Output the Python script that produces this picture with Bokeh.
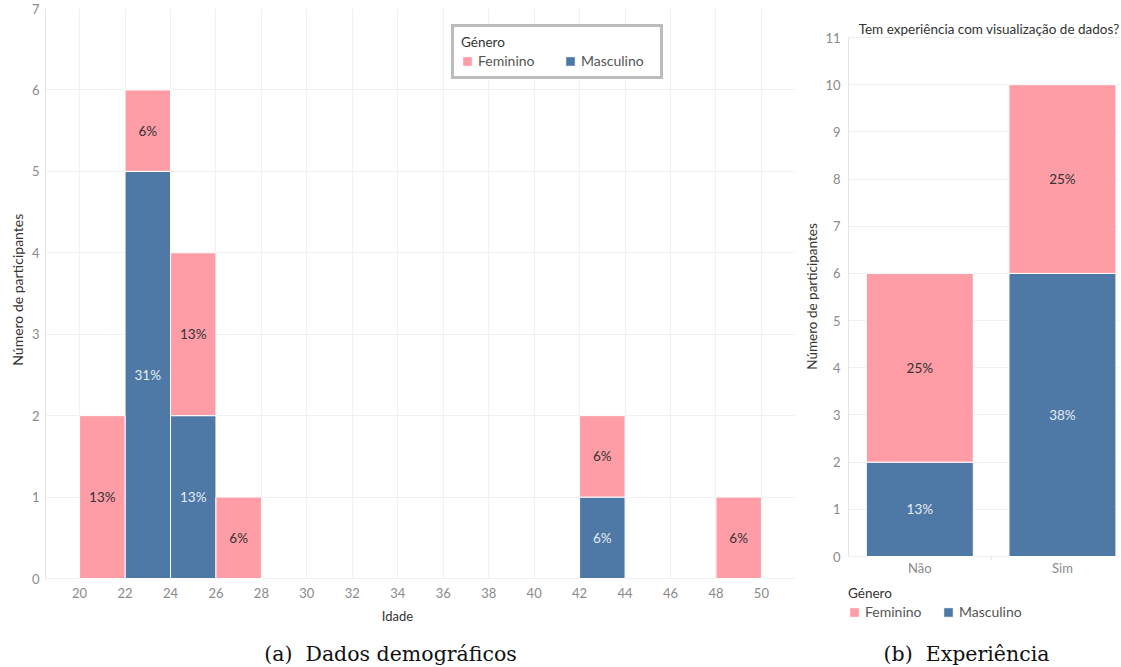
from bokeh.plotting import figure
from bokeh.layouts import row
from bokeh.models import (Range1d, FixedTicker, Legend, LegendItem, Label,
                          ColumnDataSource)
from bokeh.embed import file_html
from bokeh.resources import INLINE
from bokeh.core.properties import value

# ---------------- data ----------------
age_bin_start = [20, 22, 24, 26, 42, 48]
age_masc = [0, 5, 2, 0, 1, 0]
age_fem = [2, 1, 2, 1, 1, 1]
age_ticks = list(range(20, 52, 2))
age_yticks = [0, 1, 2, 3, 4, 5, 6, 7]

exp_cats = ["Não", "Sim"]
exp_masc = [2, 6]
exp_fem = [4, 4]
exp_yticks = list(range(0, 12))

series_names = ["Feminino", "Masculino"]
legend_title = "Género"
x_title_1 = "Idade"
y_title = "Número de participantes"
title_2 = "Tem experiência com visualização de dados?"
caption_1 = "(a)\u00a0\u00a0Dados demográficos"
caption_2 = "(b)\u00a0\u00a0Experiência"

PINK = "#FF9DA7"
BLUE = "#4E79A7"
FONT = "Lato"
SERIF = "DejaVu Serif"
TICK_C = "#8a8a8a"
DARK = "#333333"
GRID = "#f0f0f0"
LIGHT_TXT = "#e6ecf3"
CAP_C = "#111111"
EM = "\u2003"

H = 665            # canvas height
TOP = 8            # frame top (px)
BASE1 = 578        # px of y=0 in the left chart
BASE2 = 556        # px of y=0 in the right chart
TOP2 = 37          # px of y=11 in the right chart


def pct(v, total):
    return "%d%%" % int(v / total * 100 + 0.5)


def style_axis(ax):
    ax.major_tick_line_color = None
    ax.minor_tick_line_color = None
    ax.major_tick_out = 0
    ax.major_tick_in = 0
    ax.minor_tick_out = 0
    ax.minor_tick_in = 0
    ax.axis_line_color = "#e4e4e4"
    ax.major_label_text_font = FONT
    ax.major_label_text_font_size = "13px"
    ax.major_label_text_color = TICK_C
    ax.axis_label_text_font = FONT
    ax.axis_label_text_font_size = "14px"
    ax.axis_label_text_font_style = "normal"
    ax.axis_label_text_color = DARK


def base_style(p):
    p.outline_line_color = None
    p.background_fill_color = "white"
    p.border_fill_color = "white"


def screen_label(p, x, y, text, align="center", font=FONT, size="13px",
                 color=DARK):
    p.add_layout(Label(x=x, y=y, x_units="screen", y_units="screen", text=text,
                       text_align=align, text_baseline="middle",
                       text_font=font, text_font_size=size, text_color=color))


def legend_for(renderers, location, label_width, spacing, padding, border):
    return Legend(items=[LegendItem(label=n, renderers=[r])
                         for n, r in zip(series_names, renderers)],
                  location=location, orientation="horizontal",
                  title=legend_title, title_text_font=FONT,
                  title_text_font_size="13.5px", title_text_color=DARK,
                  title_text_font_style="normal",
                  label_text_font=FONT, label_text_font_size="14px",
                  label_text_color="#555555", label_height=15,
                  label_width=label_width, glyph_width=12, glyph_height=12,
                  label_standoff=5, spacing=spacing, padding=padding, margin=0,
                  title_standoff=2,
                  border_line_color="#7a7a7a" if border else None,
                  border_line_width=3,
                  background_fill_alpha=1 if border else 0)


# ---------------- left chart ----------------
PPU1 = (BASE1 - TOP) / 7.0
p1 = figure(width=800, height=H, output_backend="svg", toolbar_location=None,
            x_range=Range1d(18.5, 51.5),
            y_range=Range1d(-(H - BASE1) / PPU1, 7),
            x_axis_location=None,
            min_border_left=45, min_border_right=5, min_border_top=TOP,
            min_border_bottom=0)
base_style(p1)
style_axis(p1.yaxis[0])
p1.yaxis.ticker = FixedTicker(ticks=age_yticks)
p1.yaxis.bounds = (0, 7)
p1.yaxis.axis_label = EM * 9 + y_title
p1.yaxis.major_label_standoff = 6
p1.yaxis.axis_label_standoff = 3
p1.ygrid.grid_line_color = GRID
if "cross_bounds" in p1.xgrid[0].properties():
    p1.xgrid.ticker = FixedTicker(ticks=age_ticks)
    p1.xgrid.grid_line_color = GRID
    p1.xgrid.cross_bounds = (0, 7)
else:
    p1.xgrid.grid_line_color = None
    p1.segment(x0=age_ticks, x1=age_ticks, y0=[0] * len(age_ticks),
               y1=[7] * len(age_ticks), line_color=GRID, level="underlay")

# x tick labels, axis title and caption
p1.text(x=age_ticks, y=[-(592 - BASE1) / PPU1] * len(age_ticks),
        text=[str(t) for t in age_ticks], text_color=TICK_C,
        text_align="center", text_baseline="middle", text_font=value(FONT),
        text_font_size="13px")
screen_label(p1, 397 - 45, H - 615, x_title_1)
screen_label(p1, 390 - 45, H - 653, caption_1, font=SERIF, size="20.5px",
             color=CAP_C)

total1 = sum(age_masc) + sum(age_fem)
centers1 = [s + 1 for s in age_bin_start]
src1 = ColumnDataSource(dict(
    x=centers1,
    m_top=age_masc,
    f_bottom=age_masc,
    f_top=[m + f for m, f in zip(age_masc, age_fem)],
))
r_m1 = p1.vbar(x="x", width=2, bottom=0, top="m_top", source=src1,
               fill_color=BLUE, line_color="#ffffff", line_width=1)
r_f1 = p1.vbar(x="x", width=2, bottom="f_bottom", top="f_top", source=src1,
               fill_color=PINK, line_color="#ffffff", line_width=1)

lx, ly, lt, lc = [], [], [], []
for c, m, f in zip(centers1, age_masc, age_fem):
    if m > 0:
        lx.append(c); ly.append(m / 2); lt.append(pct(m, total1)); lc.append(LIGHT_TXT)
    if f > 0:
        lx.append(c); ly.append(m + f / 2); lt.append(pct(f, total1)); lc.append(DARK)
p1.text(x=lx, y=ly, text=lt, text_color=lc, text_align="center",
        text_baseline="middle", text_font=value(FONT), text_font_size="13.5px")

p1.add_layout(legend_for([r_f1, r_m1], (451 - 45, H - 79), 72, 14, 7, True),
              "center")

# ---------------- right chart ----------------
PPU2 = (BASE2 - TOP2) / 11.0
p2 = figure(width=319, height=H, output_backend="svg", toolbar_location=None,
            x_range=Range1d(0, 1.9),
            y_range=Range1d(-(H - BASE2) / PPU2, 11 + (TOP2 - TOP) / PPU2),
            x_axis_location=None,
            min_border_left=48, min_border_right=0, min_border_top=TOP,
            min_border_bottom=0)
base_style(p2)
style_axis(p2.yaxis[0])
p2.yaxis.ticker = FixedTicker(ticks=exp_yticks)
p2.yaxis.bounds = (0, 11)
p2.yaxis.axis_label = EM * 8 + y_title
p2.yaxis.axis_label_text_font_size = "13.5px"
p2.yaxis.major_label_standoff = 8
p2.yaxis.axis_label_standoff = 2
p2.xgrid.grid_line_color = None
p2.ygrid.grid_line_color = GRID

exp_x = [i + 0.5 for i in range(len(exp_cats))]
total2 = sum(exp_masc) + sum(exp_fem)
src2 = ColumnDataSource(dict(
    x=exp_x,
    m_top=exp_masc,
    f_bottom=exp_masc,
    f_top=[m + f for m, f in zip(exp_masc, exp_fem)],
))
r_m2 = p2.vbar(x="x", width=0.75, bottom=0, top="m_top", source=src2,
               fill_color=BLUE, line_color="#ffffff", line_width=1)
r_f2 = p2.vbar(x="x", width=0.75, bottom="f_bottom", top="f_top", source=src2,
               fill_color=PINK, line_color="#ffffff", line_width=1)

lx, ly, lt, lc = [], [], [], []
for c, m, f in zip(exp_x, exp_masc, exp_fem):
    lx.append(c); ly.append(m / 2); lt.append(pct(m, total2)); lc.append(LIGHT_TXT)
    lx.append(c); ly.append(m + f / 2); lt.append(pct(f, total2)); lc.append(DARK)
p2.text(x=lx, y=ly, text=lt, text_color=lc, text_align="center",
        text_baseline="middle", text_font=value(FONT), text_font_size="13.5px")

# category labels of the right chart
p2.text(x=exp_x, y=[-(567 - BASE2) / PPU2] * len(exp_x), text=exp_cats,
        text_color=TICK_C, text_align="center", text_baseline="middle",
        text_font=value(FONT), text_font_size="13px")
p2.segment(x0=[1.0], x1=[1.0], y0=[0], y1=[-4 / PPU2], line_color="#e4e4e4")

screen_label(p2, 271, H - 28, title_2, align="right", size="13.5px")
screen_label(p2, 966 - 848, H - 653, caption_2, font=SERIF, size="20.5px",
             color=CAP_C)

p2.add_layout(legend_for([r_f2, r_m2], (0, H - 620), 60, 17, 2, False),
              "center")

layout = row(p1, p2)
open("out.html", "w").write(file_html(layout, INLINE))
